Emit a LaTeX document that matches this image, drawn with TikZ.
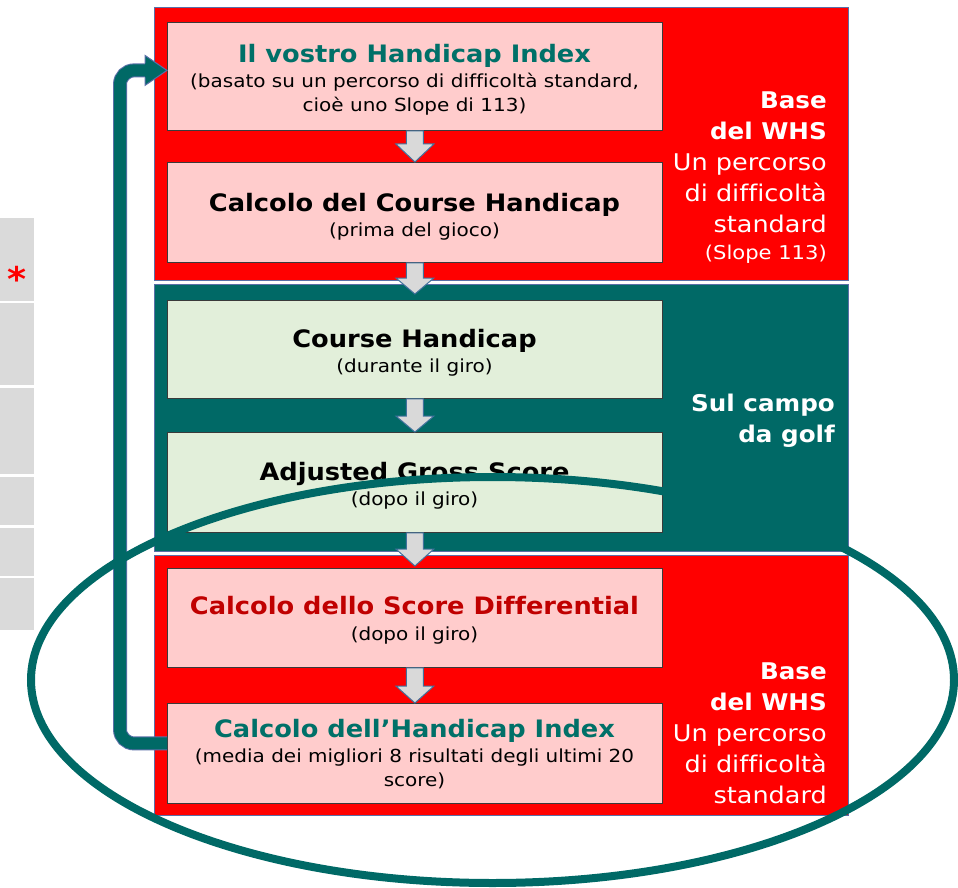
\documentclass[tikz,border=0pt]{standalone}
\usepackage{fontspec}
\setmainfont{DejaVu Sans}[Ligatures=NoCommon, FakeStretch=1.11, BoldFeatures={FakeStretch=1.07}]
\usetikzlibrary{calc}
\definecolor{whsred}{HTML}{FF0000}
\definecolor{whsteal}{HTML}{006966}
\definecolor{titleteal}{HTML}{007068}
\definecolor{titlered}{HTML}{C00000}
\definecolor{pinkbox}{HTML}{FFCCCC}
\definecolor{greenbox}{HTML}{E2EFDA}
\definecolor{arrowgray}{HTML}{D9D9D9}
\definecolor{arrowborder}{HTML}{41719C}
\definecolor{panelborder}{HTML}{5A6FA8}
\definecolor{boxborder}{HTML}{3A3A3A}
\definecolor{sidegray}{HTML}{DADADA}
\tikzset{
  panel/.style={draw=panelborder, line width=1.2pt, anchor=north west, minimum width=694pt, inner sep=0pt},
  stepbox/.style={draw=boxborder, line width=0.8pt, anchor=north west, minimum width=495pt, inner sep=0pt},
  sidebox/.style={fill=sidegray, anchor=north west, minimum width=34pt, inner sep=0pt},
  garrow/.style={fill=arrowgray, draw=arrowborder, line width=1pt, line join=miter},
  loopline/.style={draw=panelborder, line width=1pt, double=whsteal, double distance=12pt, rounded corners=14pt},
  boxtext/.style={anchor=north, inner sep=0pt, align=center, font=\fontsize{18}{24}\selectfont},
  sidetext/.style={anchor=north east, inner sep=0pt, align=right, text=white, font=\fontsize{23}{31}\selectfont}
}
\newcommand\garr[4]{%
  \draw[garrow] let \p1=(#1.south), \p2=(#2.north) in
    (\x1-8.5pt,\y1) -- (\x1+8.5pt,\y1) -- (\x1+8.5pt,\y2+#3+#4) -- (\x1+19pt,\y2+#3+#4)
    -- (\x1,\y2+#4) -- (\x1-19pt,\y2+#3+#4) -- (\x1-8.5pt,\y2+#3+#4) -- cycle;}
\begin{document}
\begin{tikzpicture}[x=1pt,y=-1pt]
\useasboundingbox (0,0) rectangle (958,888);
% side grey column
\node[sidebox, minimum height=83pt] (s1) at (0,218) {};
\node[sidebox, minimum height=82pt] (s2) at (0,303) {};
\node[sidebox, minimum height=86pt] (s3) at (0,388) {};
\node[sidebox, minimum height=48pt] (s4) at (0,477) {};
\node[sidebox, minimum height=48pt] (s5) at (0,528) {};
\node[sidebox, minimum height=52pt] (s6) at (0,578) {};
\node[anchor=base, inner sep=0pt, text=whsred, font=\fontsize{34}{34}\selectfont\bfseries] (ast) at (17,291) {*};
% panels
\node[panel, fill=whsred, minimum height=273pt] (p1) at (154,7) {};
\node[panel, fill=whsteal, minimum height=267pt] (p2) at (154,284) {};
\node[panel, fill=whsred, minimum height=260pt] (p3) at (154,555) {};
% step boxes
\node[stepbox, fill=pinkbox, minimum height=108pt] (b1) at (167,22) {};
\node[stepbox, fill=pinkbox, minimum height=100pt] (b2) at (167,162) {};
\node[stepbox, fill=greenbox, minimum height=98pt] (b3) at (167,300) {};
\node[stepbox, fill=greenbox, minimum height=100pt] (b4) at (167,432) {};
\node[stepbox, fill=pinkbox, minimum height=99pt] (b5) at (167,568) {};
\node[stepbox, fill=pinkbox, minimum height=100pt] (b6) at (167,703) {};
% box texts
\node[boxtext] (t1) at (414.5,43.8) {{\fontsize{24}{25}\selectfont\bfseries\color{titleteal}Il vostro Handicap Index}\\[1pt](basato su un percorso di difficoltà standard,\\cioè uno Slope di 113)};
\node[boxtext] (t2) at (414.5,192.8) {{\fontsize{24}{25}\selectfont\bfseries Calcolo del Course Handicap}\\[1pt](prima del gioco)};
\node[boxtext] (t3) at (414.5,328.8) {{\fontsize{24}{25}\selectfont\bfseries Course Handicap}\\[1pt](durante il giro)};
\node[boxtext] (t4) at (414.5,461.8) {{\fontsize{24}{25}\selectfont\bfseries Adjusted Gross Score}\\[1pt](dopo il giro)};
\node[boxtext] (t5) at (414.5,595.8) {{\fontsize{24}{25}\selectfont\bfseries\color{titlered}Calcolo dello Score Differential}\\[2pt](dopo il giro)};
\node[boxtext] (t6) at (414.5,718.8) {{\fontsize{24}{25}\selectfont\bfseries\color{titleteal}Calcolo dell’Handicap Index}\\[1pt](media dei migliori 8 risultati degli ultimi 20\\score)};
% side texts
\node[sidetext] (r1) at (827,92) {{\bfseries Base}\\{\bfseries del WHS}\\Un percorso\\di difficoltà\\standard\\[-4pt]{\fontsize{19}{24}\selectfont(Slope 113)}};
\node[sidetext] (r2) at (835,393.5) {{\bfseries Sul campo}\\{\bfseries da golf}};
\node[sidetext] (r3) at (827,663) {{\bfseries Base}\\{\bfseries del WHS}\\Un percorso\\di difficoltà\\standard};
% grey arrows
\garr{b1}{b2}{18pt}{0pt}
\garr{b2}{b3}{16pt}{6pt}
\garr{b3}{b4}{16pt}{0pt}
\garr{b4}{b5}{17pt}{2pt}
\garr{b5}{b6}{17pt}{0pt}
% loop arrow
\draw[loopline] ($(b6.west)+(0,-10)$) -- ++(-47,0) -- ($(b1.west)+(-47,-6)$) -- ($(b1.west)+(-21,-6)$);
\coordinate (tip) at ($(b1.west)+(0,-6)$);
\fill[whsteal] ($(tip)+(-22,-15)$) -- (tip) -- ($(tip)+(-22,15)$) -- cycle;
\draw[panelborder, line width=1pt, line join=miter] ($(tip)+(-22,-7)$) -- ($(tip)+(-22,-15)$) -- (tip) -- ($(tip)+(-22,15)$) -- ($(tip)+(-22,7)$);
% ellipse
\draw[whsteal, line width=8pt] (492.5,680) ellipse [x radius=461.5pt, y radius=203pt];
\end{tikzpicture}
\end{document}
